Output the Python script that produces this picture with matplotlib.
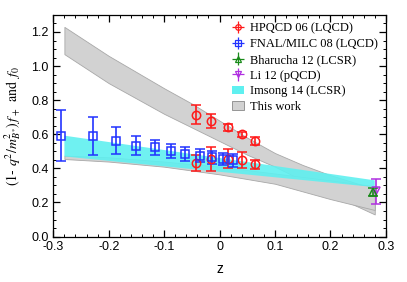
import matplotlib
matplotlib.use("Agg")
import matplotlib.pyplot as plt
from matplotlib.ticker import MultipleLocator, FuncFormatter
from matplotlib.patches import Patch

# HPQCD 06 (LQCD)
hpqcd_z = [-0.043, -0.015, 0.016, 0.041, 0.064, -0.043, -0.015, 0.016, 0.041, 0.064]
hpqcd_v = [0.715, 0.677, 0.640, 0.600, 0.560, 0.433, 0.455, 0.458, 0.449, 0.425]
hpqcd_e = [0.055, 0.041, 0.019, 0.016, 0.022, 0.047, 0.070, 0.058, 0.048, 0.027]

# FNAL/MILC 08 (LQCD)
fnal_z = [-0.286, -0.228, -0.1875, -0.151, -0.116, -0.087, -0.062, -0.035, -0.013, 0.006, 0.025]
fnal_v = [0.591, 0.591, 0.562, 0.533, 0.523, 0.503, 0.484, 0.474, 0.464, 0.455, 0.447]
fnal_e = [0.149, 0.113, 0.080, 0.056, 0.046, 0.041, 0.039, 0.039, 0.039, 0.037, 0.037]

# Bharucha 12 (LCSR), Li 12 (pQCD)
bharucha_z, bharucha_v, bharucha_e = [0.2765], [0.262], [0.022]
li_z, li_v, li_e = [0.282], [0.265], [0.074]

# Imsong 14 (LCSR) band
imsong_z = [-0.28, 0.28]
imsong_lo = [0.470, 0.290]
imsong_hi = [0.592, 0.330]

# This work: f+ band and f0 band
fp_z = [-0.28, -0.2, -0.1, -0.05, 0.0, 0.05, 0.1, 0.15, 0.2, 0.28]
fp_hi = [1.23, 1.06, 0.87, 0.78, 0.68, 0.58, 0.49, 0.42, 0.36, 0.28]
fp_lo = [1.07, 0.90, 0.72, 0.64, 0.56, 0.48, 0.41, 0.33, 0.25, 0.13]

f0_z = [-0.28, -0.2, -0.1, 0.0, 0.1, 0.2, 0.28]
f0_hi = [0.475, 0.465, 0.44, 0.41, 0.37, 0.33, 0.295]
f0_lo = [0.455, 0.44, 0.41, 0.365, 0.31, 0.22, 0.156]

plt.rcParams["mathtext.fontset"] = "stix"
plt.rcParams["font.family"] = "Liberation Sans"

fig = plt.figure(figsize=(4.07, 2.82), dpi=100)
ax = fig.add_axes([0.131, 0.161, 0.817, 0.786])

gray_kw = dict(facecolor="#d2d2d2", edgecolor="#a8a8a8", linewidth=0.6, zorder=1)
ax.fill_between(fp_z, fp_lo, fp_hi, **gray_kw)
ax.fill_between(f0_z, f0_lo, f0_hi, **gray_kw)
ax.fill_between(imsong_z, imsong_lo, imsong_hi, facecolor="#5ff0f0",
                edgecolor="none", alpha=0.9, zorder=2)

eb_kw = dict(ls="none", mfc="none", markersize=6, capsize=3.5, elinewidth=1.2,
             capthick=1.2, mew=1.1, zorder=4)
ax.errorbar(hpqcd_z, hpqcd_v, yerr=hpqcd_e, marker="o", color="#ff1a1a", **eb_kw)
ax.errorbar(fnal_z, fnal_v, yerr=fnal_e, marker="s", color="#2233ff", **eb_kw)
ax.errorbar(li_z, li_v, yerr=li_e, marker="v", color="#b030e0", **eb_kw)
ax.errorbar(bharucha_z, bharucha_v, yerr=bharucha_e, marker="^", color="#1a8a1a", **eb_kw)

ax.set_xlim(-0.3, 0.3)
ax.set_ylim(0.0, 1.3)
ax.xaxis.set_major_locator(MultipleLocator(0.1))
ax.xaxis.set_minor_locator(MultipleLocator(0.02))
ax.yaxis.set_major_locator(MultipleLocator(0.2))
ax.yaxis.set_minor_locator(MultipleLocator(0.05))
ax.xaxis.set_major_formatter(FuncFormatter(lambda v, p: "0" if abs(v) < 1e-9 else f"{v:.1f}"))
ax.yaxis.set_major_formatter(FuncFormatter(lambda v, p: f"{v:.1f}"))
ax.tick_params(which="both", direction="in", top=True, right=True, labelsize=9)
ax.tick_params(which="major", length=5, width=0.9)
ax.tick_params(which="minor", length=2.5, width=0.7)
for s in ax.spines.values():
    s.set_linewidth(0.9)

ax.set_xlabel("z", fontsize=10, labelpad=6)
ax.set_ylabel(r"$(1$- $q^2/m^2_{B^{*}})\,f_+\;\;\mathrm{and}\;\;f_0$", fontsize=10, labelpad=6)

leg_kw = dict(ls="none", mfc="none", markersize=4, capsize=1.5, elinewidth=0.9, mew=0.9)
handles = [
    ax.errorbar([], [], yerr=[], xerr=[], marker="o", color="#ff1a1a", **leg_kw),
    ax.errorbar([], [], yerr=[], xerr=[], marker="s", color="#2233ff", **leg_kw),
    ax.errorbar([], [], yerr=[], xerr=[], marker="^", color="#1a8a1a", **leg_kw),
    ax.errorbar([], [], yerr=[], xerr=[], marker="v", color="#b030e0", **leg_kw),
    Patch(facecolor="#5ff0f0", edgecolor="none"),
    Patch(facecolor="#d2d2d2", edgecolor="#888888", linewidth=0.6),
]
labels = ["HPQCD 06 (LQCD)", "FNAL/MILC 08 (LQCD)", "Bharucha 12 (LCSR)",
          "Li 12 (pQCD)", "Imsong 14 (LCSR)", "This work"]
ax.legend(handles, labels, loc="upper right", frameon=False,
          prop={"family": "Liberation Serif", "size": 9},
          handlelength=1.0, handleheight=0.7, handletextpad=0.5,
          labelspacing=0.3, borderaxespad=0.2)

fig.savefig("out.png", dpi=100)
